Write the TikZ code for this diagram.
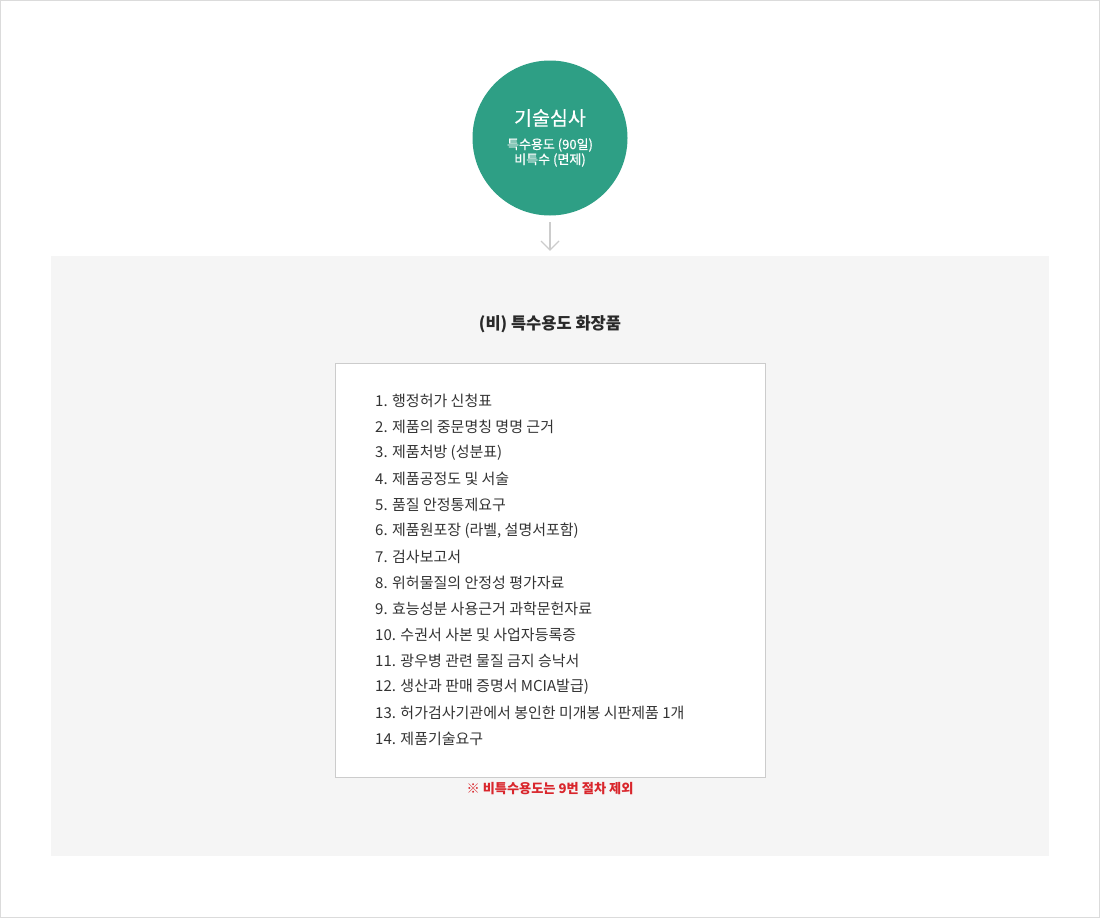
\documentclass[tikz,border=0pt]{standalone}
\usepackage{fontspec}
\setmainfont{Noto Sans CJK KR}
\newfontfamily\kr{Noto Sans CJK KR}
\newfontfamily\krm[FakeBold=0.6]{Noto Sans CJK KR}
\definecolor{teal1}{HTML}{2E9F85}
\definecolor{panel}{HTML}{F5F5F5}
\definecolor{boxline}{HTML}{CCCCCC}
\definecolor{txt}{HTML}{333333}
\definecolor{note}{HTML}{D9262C}
\definecolor{arrowc}{HTML}{CCCCCC}
\tikzset{
  item/.style={anchor=west, inner sep=0pt, text=txt, font=\kr\fontsize{15}{16}\selectfont},
}
\begin{document}
\begin{tikzpicture}[x=1pt,y=-1pt]
\useasboundingbox (0,0) rectangle (1100,918);
\draw[draw=boxline!70, line width=1pt] (0.5,0.5) rectangle (1099.5,917.5);
\fill[panel] (51,256) rectangle (1049,856);
\node[draw=boxline, fill=white, line width=1pt, minimum width=430pt, minimum height=414pt, inner sep=0pt] (box) at (550,570) {};
\node[circle, fill=teal1, minimum size=155pt, inner sep=0pt] (circ) at (550,138) {};
\node[text=white, font=\krm\fontsize{19.5}{22}\selectfont, inner sep=0pt] (t1) at (550,118) {기술심사};
\node[text=white, font=\krm\fontsize{13}{15}\selectfont, inner sep=0pt] (t2a) at (550,145) {특수용도 (90일)};
\node[text=white, font=\krm\fontsize{13}{15}\selectfont, inner sep=0pt] (t2b) at (550,160) {비특수 (면제)};
\coordinate (a1) at (550,222);
\coordinate (a2) at (550,250);
\draw[arrowc, line width=1.2pt] (a1) -- (a2);
\draw[arrowc, line width=1.2pt] (541,241) -- (a2) -- (559,241);
\node[text=txt!80!black, font=\kr\bfseries\fontsize{16.5}{18}\selectfont, inner sep=0pt] (title) at (550,324) {(비) 특수용도 화장품};
\node[item] (i1) at (375,401) {1. 행정허가 신청표};
\node[item] (i2) at (375,427) {2. 제품의 중문명칭 명명 근거};
\node[item] (i3) at (375,453) {3. 제품처방 (성분표)};
\node[item] (i4) at (375,479) {4. 제품공정도 및 서술};
\node[item] (i5) at (375,505) {5. 품질 안정통제요구};
\node[item] (i6) at (375,531) {6. 제품원포장 (라벨, 설명서포함)};
\node[item] (i7) at (375,557) {7. 검사보고서};
\node[item] (i8) at (375,583) {8. 위허물질의 안정성 평가자료};
\node[item] (i9) at (375,609) {9. 효능성분 사용근거 과학문헌자료};
\node[item] (i10) at (375,635) {10. 수권서 사본 및 사업자등록증};
\node[item] (i11) at (375,661) {11. 광우병 관련 물질 금지 승낙서};
\node[item] (i12) at (375,687) {12. 생산과 판매 증명서 MCIA발급)};
\node[item] (i13) at (375,713) {13. 허가검사기관에서 봉인한 미개봉 시판제품 1개};
\node[item] (i14) at (375,739) {14. 제품기술요구};
\node[text=note, font=\kr\bfseries\fontsize{13.2}{15}\selectfont, inner sep=0pt] (nt) at (550,789) {※ 비특수용도는 9번 절차 제외};
\end{tikzpicture}
\end{document}
